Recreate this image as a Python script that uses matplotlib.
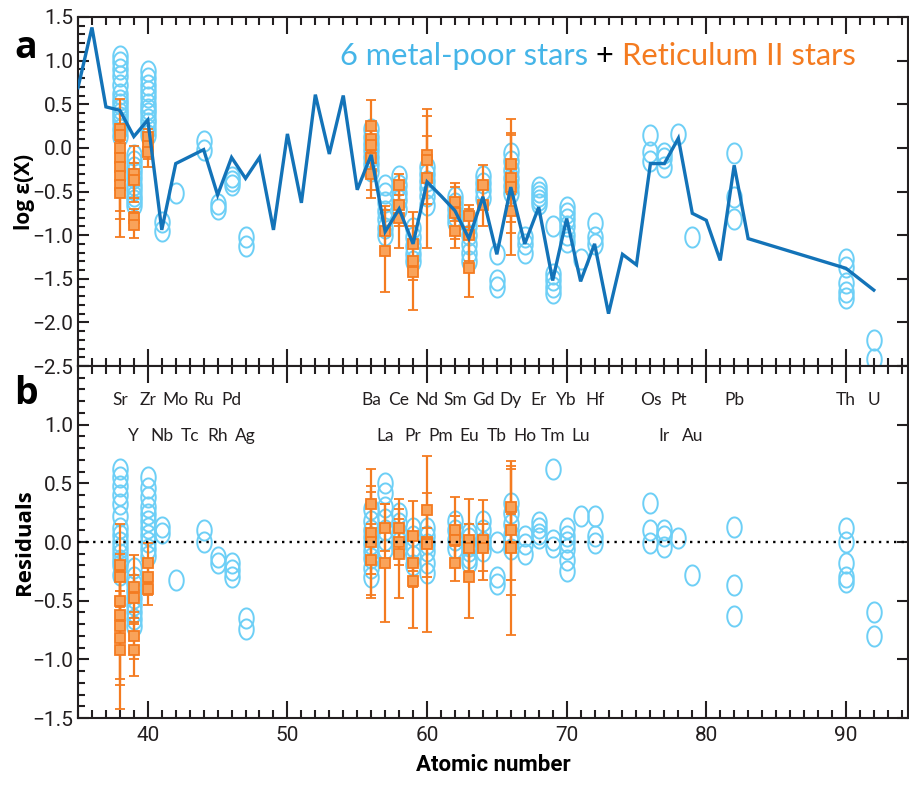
import numpy as np
import matplotlib
matplotlib.use("Agg")
import matplotlib.pyplot as plt
from matplotlib.path import Path
from matplotlib.ticker import MultipleLocator, FixedLocator, FixedFormatter

# ---------------- data ----------------
# scaled solar r-process pattern (log eps) by atomic number
solar_z = [35, 36, 37, 38, 39, 40, 41, 42, 43, 44, 45, 46, 47, 48, 49, 50, 51, 52, 53, 54,
           55, 56, 57, 58, 59, 60, 61, 62, 63, 64, 65, 66, 67, 68, 69, 70, 71, 72, 73, 74,
           75, 76, 77, 78, 79, 80, 81, 82, 83, 90, 92]
solar_val = [0.69, 1.38, 0.47, 0.43, 0.13, 0.32, -0.94, -0.18, -0.10, -0.02, -0.54, -0.11,
             -0.35, -0.11, -0.94, 0.16, -0.63, 0.61, -0.07, 0.60, -0.48, -0.08, -0.96, -0.70,
             -1.10, -0.39, -0.55, -0.72, -1.04, -0.56, -1.22, -0.45, -1.10, -0.68, -1.52,
             -0.81, -1.53, -1.10, -1.90, -1.22, -1.34, -0.18, -0.18, 0.11, -0.75, -0.83,
             -1.29, -0.20, -1.04, -1.38, -1.63]

# six metal-poor stars: abundances (panel a)
mp_z = ([38] * 14 + [39] * 10 + [40] * 12 + [41] * 2 + [42] + [44] * 2 + [45] * 2 + [46] * 3 +
        [47] * 2 + [56] * 7 + [57] * 7 + [58] * 5 + [59] * 5 + [60] * 6 + [62] * 5 + [63] * 6 +
        [64] * 4 + [65] * 3 + [66] * 6 + [67] * 3 + [68] * 5 + [69] * 5 + [70] * 6 + [71] +
        [72] * 3 + [76] * 3 + [77] * 3 + [78] + [79] + [82] * 3 + [90] * 5 + [92] * 2)
mp_val = [1.05, 0.98, 0.90, 0.82, 0.72, 0.62, 0.55, 0.50, 0.45, 0.40, 0.35, 0.30, 0.22, 0.14,
          -0.08, -0.15, -0.22, -0.28, -0.35, -0.42, -0.48, -0.55, -0.60, -0.66,
          0.88, 0.80, 0.72, 0.65, 0.58, 0.50, 0.45, 0.40, 0.33, 0.28, 0.22, 0.15,
          -0.85, -0.95,
          -0.52,
          0.08, -0.02,
          -0.64, -0.70,
          -0.33, -0.38, -0.43,
          -1.02, -1.12,
          0.22, 0.12, 0.05, -0.02, -0.10, -0.18, -0.26,
          -0.42, -0.52, -0.62, -0.72, -0.82, -0.92, -1.00,
          -0.32, -0.42, -0.52, -0.60, -0.70,
          -0.92, -1.02, -1.12, -1.22, -1.30,
          -0.22, -0.30, -0.38, -0.46, -0.55, -0.65,
          -0.56, -0.63, -0.70, -0.78, -0.85,
          -0.82, -0.90, -1.00, -1.10, -1.20, -1.30,
          -0.32, -0.40, -0.48, -0.58,
          -1.22, -1.52, -1.60,
          -0.06, -0.15, -0.25, -0.35, -0.44, -0.52,
          -1.02, -1.10, -1.20,
          -0.45, -0.50, -0.55, -0.60, -0.64,
          -0.90, -1.45, -1.52, -1.60, -1.66,
          -0.68, -0.75, -0.82, -0.90, -1.00, -1.08,
          -1.27,
          -0.86, -1.02, -1.10,
          0.15, -0.05, -0.15,
          -0.06, -0.12, -0.22,
          0.16,
          -1.02,
          -0.06, -0.56, -0.82,
          -1.27, -1.37, -1.55, -1.65, -1.72,
          -2.20, -2.42]

# six metal-poor stars: residuals (panel b)
mp_res_z = ([38] * 14 + [39] * 9 + [40] * 11 + [41] * 2 + [42] + [44] * 2 + [45] * 2 + [46] * 3 +
            [47] * 2 + [56] * 9 + [57] * 7 + [58] * 5 + [59] * 5 + [60] * 6 + [62] * 4 + [63] * 6 +
            [64] * 4 + [65] * 3 + [66] * 6 + [67] * 3 + [68] * 4 + [69] * 3 + [70] * 6 + [71] +
            [72] * 3 + [76] * 3 + [77] * 3 + [78] + [79] + [82] * 3 + [90] * 5 + [92] * 2)
mp_res_val = [0.62, 0.55, 0.48, 0.40, 0.32, 0.22, 0.12, 0.06, 0.00, -0.05, -0.10, -0.15, -0.20, -0.28,
              -0.22, -0.30, -0.36, -0.42, -0.48, -0.54, -0.60, -0.66, -0.72,
              0.55, 0.46, 0.38, 0.30, 0.24, 0.18, 0.12, 0.06, 0.00, -0.06, -0.12,
              0.13, 0.08,
              -0.32,
              0.10, 0.00,
              -0.13, -0.18,
              -0.18, -0.24, -0.30,
              -0.65, -0.74,
              0.28, 0.18, 0.10, 0.04, -0.02, -0.08, -0.14, -0.22, -0.30,
              0.50, 0.42, 0.30, 0.20, 0.10, 0.02, -0.06,
              0.25, 0.16, 0.08, 0.00, -0.05,
              0.12, 0.05, -0.04, -0.12, -0.20,
              0.12, 0.05, -0.02, -0.08, -0.18, -0.26,
              0.18, 0.10, 0.02, -0.05,
              0.08, 0.03, -0.03, -0.08, -0.14, -0.18,
              0.18, 0.10, 0.00, -0.08,
              0.00, -0.30, -0.36,
              0.33, 0.25, 0.15, 0.06, 0.00, -0.06,
              0.05, -0.02, -0.10,
              0.17, 0.12, 0.07, 0.03,
              0.62, 0.02, -0.04,
              0.12, 0.05, 0.00, -0.06, -0.15, -0.25,
              0.22,
              0.22, 0.05, -0.01,
              0.33, 0.10, -0.01,
              0.10, 0.05, -0.04,
              0.03,
              -0.28,
              0.13, -0.37, -0.63,
              0.12, 0.00, -0.18, -0.30, -0.34,
              -0.60, -0.80]

# Reticulum II stars: abundances with uncertainties (panel a)
ret_z = ([38] * 8 + [39] * 4 + [40] * 3 + [56] * 5 + [57] * 2 + [58] * 3 + [59] * 3 +
         [60] * 3 + [62] * 3 + [63] * 3 + [64] * 2 + [66] * 4)
ret_val = [0.22, 0.15, 0.00, -0.12, -0.22, -0.32, -0.42, -0.52,
           -0.30, -0.37, -0.80, -0.88,
           0.12, 0.02, -0.05,
           0.25, 0.10, 0.03, -0.12, -0.30,
           -0.95, -1.18,
           -0.42, -0.65, -0.80,
           -1.10, -1.30, -1.42,
           -0.08, -0.14, -0.35,
           -0.62, -0.75, -0.95,
           -0.78, -1.00, -1.38,
           -0.42, -0.65,
           -0.18, -0.35, -0.45, -0.72]
ret_err = [0.34, 0.12, 0.20, 0.20, 0.25, 0.40, 0.40, 0.50,
           0.32, 0.20, 0.10, 0.15,
           0.10, 0.15, 0.17,
           0.30, 0.20, 0.20, 0.36, 0.28,
           0.28, 0.47,
           0.12, 0.25, 0.35,
           0.20, 0.56, 0.10,
           0.22, 0.50, 0.80,
           0.22, 0.30, 0.20,
           0.13, 0.30, 0.33,
           0.22, 0.25,
           0.35, 0.50, 0.78, 0.25]

# Reticulum II stars: residuals with uncertainties (panel b)
ret_res_z = ([38] * 7 + [39] * 4 + [40] * 3 + [56] * 4 + [57] * 2 + [58] * 3 + [59] * 3 +
             [60] * 3 + [62] * 3 + [63] * 3 + [64] * 2 + [66] * 4)
ret_res_val = [-0.20, -0.30, -0.50, -0.62, -0.72, -0.82, -0.92,
               -0.38, -0.48, -0.80, -0.92,
               -0.18, -0.30, -0.40,
               0.32, 0.08, 0.00, -0.15,
               0.12, -0.18,
               0.12, -0.10, 0.00,
               0.05, -0.18, -0.33,
               0.27, 0.00, -0.02,
               0.10, 0.02, -0.18,
               0.02, -0.05, -0.30,
               0.02, -0.05,
               0.30, 0.10, -0.04, -0.05]
ret_res_err = [0.35, 0.20, 0.25, 0.30, 0.45, 0.40, 0.50,
               0.27, 0.20, 0.20, 0.22,
               0.17, 0.15, 0.14,
               0.30, 0.35, 0.48, 0.30,
               0.20, 0.50,
               0.25, 0.38, 0.20,
               0.30, 0.20, 0.40,
               0.15, 0.30, 0.75,
               0.28, 0.20, 0.15,
               0.35, 0.20, 0.35,
               0.34, 0.20,
               0.32, 0.55, 0.28, 0.74]

# element symbols shown in panel b (two staggered rows)
row1_z = [38, 40, 42, 44, 46, 56, 58, 60, 62, 64, 66, 68, 70, 72, 76, 78, 82, 90, 92]
row1_sym = ["Sr", "Zr", "Mo", "Ru", "Pd", "Ba", "Ce", "Nd", "Sm", "Gd", "Dy", "Er", "Yb",
            "Hf", "Os", "Pt", "Pb", "Th", "U"]
row2_z = [39, 41, 43, 45, 47, 57, 59, 61, 63, 65, 67, 69, 71, 77, 79]
row2_sym = ["Y", "Nb", "Tc", "Rh", "Ag", "La", "Pr", "Pm", "Eu", "Tb", "Ho", "Tm", "Lu",
            "Ir", "Au"]

# ---------------- style ----------------
LIGHT_BLUE = "#6dcff6"
LINE_BLUE = "#1373b8"
TEXT_BLUE = "#45b5e8"
ORANGE = "#f47b20"
ORANGE_FILL = "#f9a35a"
TICKFONT = ["Roboto", "DejaVu Sans"]
SANS = ["Lato", "DejaVu Sans"]
BOLDFONT = ["Open Sans", "DejaVu Sans"]
INK = "#231f20"

plt.rcParams["font.family"] = TICKFONT
plt.rcParams["axes.linewidth"] = 1.5

W, H = 909, 788
fig = plt.figure(figsize=(W / 100, H / 100), dpi=100)

left = 78 / W
right = 908 / W
top_a = 1 - 17 / H
mid = 1 - 366 / H
bot_b = 1 - 718 / H
ax1 = fig.add_axes([left, mid, right - left, top_a - mid])
ax2 = fig.add_axes([left, bot_b, right - left, mid - bot_b])

# open ellipse marker (slightly taller than wide)
t = np.linspace(0, 2 * np.pi, 80)
ellipse = Path(np.column_stack([0.72 * np.cos(t), np.sin(t)]), closed=True)

circ_kw = dict(linestyle="none", marker=ellipse, markersize=14.5, markerfacecolor="none",
               markeredgecolor=LIGHT_BLUE, markeredgewidth=1.4, zorder=2)
err_kw = dict(fmt="s", color=ORANGE, ecolor=ORANGE, markersize=6.5, markerfacecolor=ORANGE_FILL,
              markeredgecolor=ORANGE, markeredgewidth=1.3, elinewidth=1.6, capsize=3.6,
              capthick=1.6, zorder=3)

# panel a
ax1.plot(mp_z, mp_val, **circ_kw)
ax1.errorbar(ret_z, ret_val, yerr=ret_err, **err_kw)
ax1.plot(solar_z, solar_val, color=LINE_BLUE, lw=2.4, zorder=4, solid_joinstyle="miter")

# panel b
ax2.plot(mp_res_z, mp_res_val, **circ_kw)
ax2.errorbar(ret_res_z, ret_res_val, yerr=ret_res_err, **err_kw)
ax2.axhline(0, color="black", lw=1.7, ls=(0, (1, 2.2)), zorder=5)

for z, s in zip(row1_z, row1_sym):
    ax2.text(z, 1.21, s, ha="center", va="center", fontsize=12.5, family=SANS, color=INK)
for z, s in zip(row2_z, row2_sym):
    ax2.text(z, 0.90, s, ha="center", va="center", fontsize=12.5, family=SANS, color=INK)

# axes formatting
for ax in (ax1, ax2):
    ax.set_xlim(35, 94.45)
    ax.xaxis.set_major_locator(MultipleLocator(10))
    ax.xaxis.set_minor_locator(MultipleLocator(1))
    ax.yaxis.set_major_locator(MultipleLocator(0.5))
    ax.yaxis.set_minor_locator(MultipleLocator(0.1))
    ax.tick_params(which="both", direction="in", top=True, right=True, width=1.5,
                   colors=INK, labelsize=15)
    ax.tick_params(axis="x", which="major", length=12)
    ax.tick_params(axis="x", which="minor", length=6)
    ax.tick_params(axis="y", which="major", length=8)
    ax.tick_params(axis="y", which="minor", length=5, right=False)
    for sp in ax.spines.values():
        sp.set_color(INK)

ax1.set_ylim(-2.5, 1.5)
ax1.tick_params(axis="x", labelbottom=False)
ax2.set_ylim(-1.5, 1.5)
ax2.yaxis.set_major_locator(FixedLocator([-1.5, -1.0, -0.5, 0.0, 0.5, 1.0, 1.5]))
ax2.yaxis.set_major_formatter(FixedFormatter(["\u22121.5", "\u22121.0", "\u22120.5", "0.0",
                                              "0.5", "1.0", ""]))
ax2.tick_params(axis="x", pad=6)

ax1.set_ylabel("log \u03b5(X)", fontsize=15, fontweight="bold", family=BOLDFONT)
ax2.set_ylabel("Residuals", fontsize=16, fontweight="bold", family=BOLDFONT)
ax2.set_xlabel("Atomic number", fontsize=16, fontweight="bold", labelpad=6)
ax1.yaxis.set_label_coords(-0.052, 0.5)
ax2.yaxis.set_label_coords(-0.052, 0.5)

# panel letters
fig.text(14 / W, 1 - 58 / H, "a", fontsize=27, fontweight="bold", family=BOLDFONT, va="baseline")
fig.text(14 / W, 1 - 404 / H, "b", fontsize=27, fontweight="bold", family=BOLDFONT, va="baseline")

# coloured title line inside panel a
fig.canvas.draw()
renderer = fig.canvas.get_renderer()
x_px = 340
y_fig = 1 - 65 / H
for piece, col in (("6 metal-poor stars ", TEXT_BLUE), ("+ ", "black"), ("Reticulum II stars", ORANGE)):
    txt = fig.text(x_px / W, y_fig, piece, fontsize=22.2, family=SANS, color=col, va="baseline")
    x_px = txt.get_window_extent(renderer).x1

fig.savefig("out.png", dpi=100)
